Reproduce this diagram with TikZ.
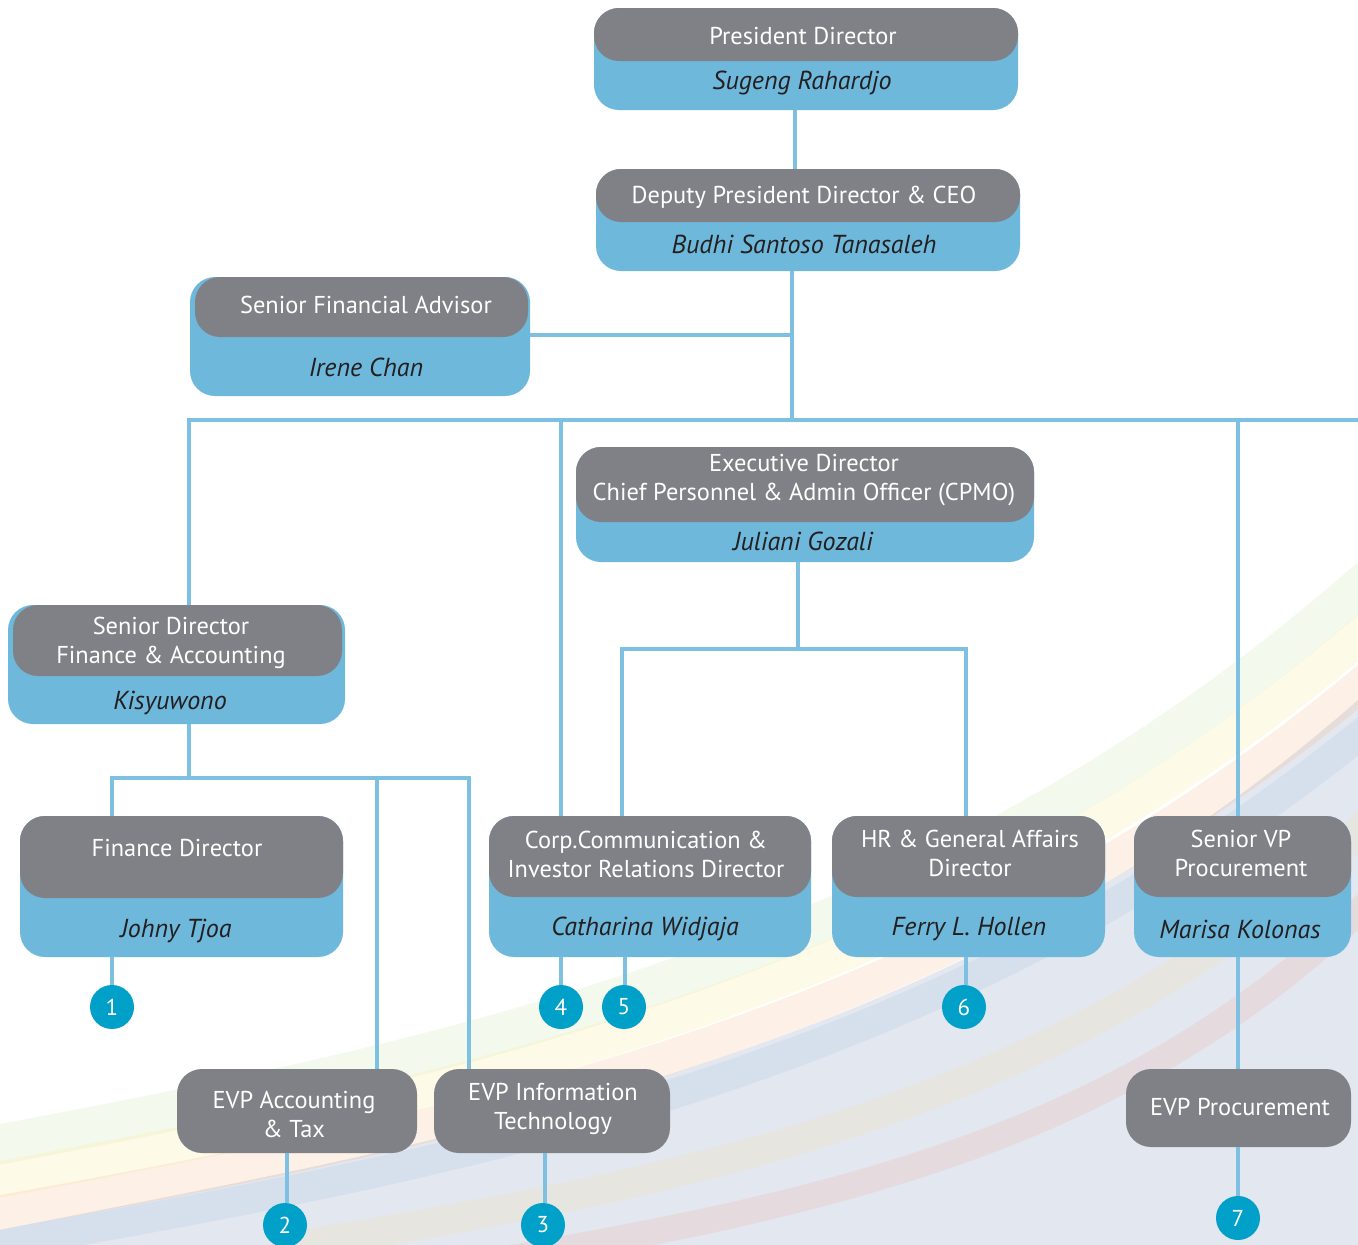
\documentclass[tikz,border=0pt]{standalone}
\usepackage{fontspec}
\setmainfont{PT Sans}
\definecolor{boxgray}{RGB}{128,129,134}
\definecolor{boxblue}{RGB}{110,184,219}
\definecolor{linkblue}{RGB}{125,192,226}
\definecolor{dotblue}{RGB}{0,160,200}
\definecolor{nameink}{RGB}{35,31,32}
\tikzset{
  bbox/.style={fill=boxblue, rounded corners=25pt, inner sep=0pt},
  gbox/.style={fill=boxgray, rounded corners=25pt, inner sep=0pt},
  ttl/.style={text=white, font=\fontsize{24.4}{29}\selectfont, align=center, inner sep=0pt},
  nm/.style={text=nameink, font=\fontsize{26}{29}\selectfont\itshape, inner sep=0pt, yshift=-3pt},
  conn/.style={draw=linkblue, line width=4pt},
  dot/.style={circle, fill=dotblue, minimum size=44pt, inner sep=0pt, text=white, font=\fontsize{23}{26}\selectfont},
  band/.style={line cap=round, opacity=0.17}
}
\begin{document}
\begin{tikzpicture}[x=1pt,y=-1pt]
\useasboundingbox (0,0) rectangle (1358,1245);
\fill[white] (0,0) rectangle (1358,1245);
% ---- decorative background ----
\begin{scope}
\clip (0,0) rectangle (1358,1245);
\fill[color={rgb,255:red,200;green,208;blue,225}, opacity=0.5]
  (0,1245) -- (0,1230) .. controls (450,1140) and (950,1060) .. (1358,700) -- (1358,1245) -- cycle;
\draw[band, line width=40pt, color={rgb,255:red,190;green,220;blue,150}] (-30,1150) .. controls (450,1060) and (950,960) .. (1390,560);
\draw[band, line width=36pt, color={rgb,255:red,250;green,230;blue,120}] (-30,1185) .. controls (450,1095) and (950,1000) .. (1390,610);
\draw[band, line width=34pt, color={rgb,255:red,245;green,170;blue,110}] (-30,1218) .. controls (450,1130) and (950,1040) .. (1390,660);
\draw[band, line width=30pt, color={rgb,255:red,150;green,190;blue,230}] (-30,1250) .. controls (450,1165) and (950,1080) .. (1390,710);
\draw[band, line width=30pt, color={rgb,255:red,250;green,225;blue,150}] (300,1245) .. controls (700,1180) and (1100,1100) .. (1390,800);
\draw[band, line width=26pt, color={rgb,255:red,240;green,160;blue,150}] (500,1260) .. controls (850,1200) and (1150,1130) .. (1390,880);
\end{scope}
% ---- boxes ----
% President Director
\node[bbox, minimum width=424pt, minimum height=102pt] (pd) at (806,59) {};
\node[gbox, minimum width=424pt, minimum height=53pt] (pdg) at (806,34.5) {};
\node[ttl] (pdt) at (803,36) {President Director};
\node[nm] (pdn) at (802,80) {Sugeng Rahardjo};
% Deputy
\node[bbox, minimum width=424pt, minimum height=102pt] (dp) at (808,220) {};
\node[gbox, minimum width=424pt, minimum height=53pt] (dpg) at (808,195.5) {};
\node[ttl] (dpt) at (804,197) {Deputy President Director \& CEO};
\node[nm] (dpn) at (804,241) {Budhi Santoso Tanasaleh};
% Senior Financial Advisor
\node[bbox, minimum width=340pt, minimum height=119pt] (sfa) at (360,336.5) {};
\node[gbox, minimum width=333pt, minimum height=60pt] (sfag) at (361.5,307) {};
\node[ttl] (sfat) at (366,305) {Senior Financial Advisor};
\node[nm] (sfan) at (366,364) {Irene Chan};
% Executive Director
\node[bbox, minimum width=458pt, minimum height=115pt] (ed) at (805,504.5) {};
\node[gbox, minimum width=458pt, minimum height=75pt] (edg) at (805,484.5) {};
\node[ttl] (edt) at (804,480.5) {Executive Director\\Chief Personnel \& Admin Officer (CPMO)};
\node[nm] (edn) at (803,538) {Juliani Gozali};
% Senior Director Finance
\node[bbox, minimum width=337pt, minimum height=119pt] (sd) at (176.5,664.5) {};
\node[gbox, minimum width=329pt, minimum height=71pt] (sdg) at (177.5,640.5) {};
\node[ttl] (sdt) at (171,642.5) {Senior Director\\Finance \& Accounting};
\node[nm] (sdn) at (170,700) {Kisyuwono};
% Finance Director
\node[bbox, minimum width=323pt, minimum height=141pt] (fd) at (181.5,886.5) {};
\node[gbox, minimum width=323pt, minimum height=82pt] (fdg) at (181.5,857) {};
\node[ttl] (fdt) at (177,848) {Finance Director};
\node[nm] (fdn) at (176,928) {Johny Tjoa};
% Corp Comm
\node[bbox, minimum width=322pt, minimum height=141pt] (cc) at (650,886.5) {};
\node[gbox, minimum width=322pt, minimum height=81pt] (ccg) at (650,856.5) {};
\node[ttl] (cct) at (646,854) {Corp.Communication \&\\Investor Relations Director};
\node[nm] (ccn) at (645,926) {Catharina Widjaja};
% HR
\node[bbox, minimum width=273pt, minimum height=141pt] (hr) at (968.5,886.5) {};
\node[gbox, minimum width=273pt, minimum height=81pt] (hrg) at (968.5,856.5) {};
\node[ttl] (hrt) at (970,853) {HR \& General Affairs\\Director};
\node[nm] (hrn) at (969,926) {Ferry L. Hollen};
% Senior VP Procurement
\node[bbox, minimum width=217pt, minimum height=141pt] (svp) at (1242.5,886.5) {};
\node[gbox, minimum width=217pt, minimum height=81pt] (svpg) at (1242.5,856.5) {};
\node[ttl] (svpt) at (1241,853) {Senior VP\\Procurement};
\node[nm] (svpn) at (1240,926) {Marisa Kolonas};
% EVP boxes
\node[gbox, minimum width=240pt, minimum height=84pt] (eat) at (297,1111) {};
\node[ttl] (eatt) at (294,1114.5) {EVP Accounting\\\& Tax};
\node[gbox, minimum width=236pt, minimum height=84pt] (eit) at (552,1111) {};
\node[ttl] (eitt) at (553,1108.5) {EVP Information\\Technology};
\node[gbox, minimum width=225pt, minimum height=78pt] (ep) at (1238.5,1108) {};
\node[ttl] (ept) at (1240,1107) {EVP Procurement};
% numbered dots
\node[dot] (n1) at (112,1007) {1};
\node[dot] (n2) at (285,1225) {2};
\node[dot] (n3) at (543,1225) {3};
\node[dot] (n4) at (561,1007) {4};
\node[dot] (n5) at (624,1007) {5};
\node[dot] (n6) at (964,1007) {6};
\node[dot] (n7) at (1238,1218) {7};
% ---- junction coordinates ----
\coordinate (xa) at (795,0);
\coordinate (xb) at (792,0);
\coordinate (hy) at (0,420);
\coordinate (hend) at (1358,420);
\coordinate (xc) at (189,0);
\coordinate (xd) at (561,0);
\coordinate (xe) at (1238,0);
\coordinate (xf) at (798,0);
\coordinate (hy2) at (0,649);
\coordinate (xg) at (622,0);
\coordinate (xh) at (966,0);
\coordinate (hy3) at (0,778);
\coordinate (xi) at (112,0);
\coordinate (xj) at (377,0);
\coordinate (xk) at (469,0);
\coordinate (xl) at (625,0);
\coordinate (xm) at (287,0);
\coordinate (xn) at (545,0);
\coordinate (sfay) at (0,335);
% ---- connectors ----
\draw[conn] (xa |- pd.south) -- (xa |- dp.north);
\draw[conn] (xb |- dp.south) -- (xb |- hy);
\draw[conn] (sfa.east |- sfay) -- (xb |- sfay);
\draw[conn] (xc |- sd.north) -- (xc |- hy) -- (hend);
\draw[conn] (xd |- hy) -- (xd |- cc.north);
\draw[conn] (xe |- hy) -- (xe |- svp.north);
\draw[conn] (xf |- ed.south) -- (xf |- hy2);
\draw[conn] (xg |- cc.north) -- (xg |- hy2) -- (xh |- hy2) -- (xh |- hr.north);
\draw[conn] (xc |- sd.south) -- (xc |- hy3);
\draw[conn] (xi |- fd.north) -- (xi |- hy3) -- (xk |- hy3) -- (xk |- eit.north);
\draw[conn] (xj |- hy3) -- (xj |- eat.north);
\draw[conn] (xi |- fd.south) -- (n1.north -| xi);
\draw[conn] (xd |- cc.south) -- (n4.north -| xd);
\draw[conn] (xl |- cc.south) -- (n5.north -| xl);
\draw[conn] (xh |- hr.south) -- (n6.north -| xh);
\draw[conn] (xm |- eat.south) -- (n2.north -| xm);
\draw[conn] (xn |- eit.south) -- (n3.north -| xn);
\draw[conn] (xe |- svp.south) -- (xe |- ep.north);
\draw[conn] (xe |- ep.south) -- (n7.north);
\end{tikzpicture}
\end{document}
